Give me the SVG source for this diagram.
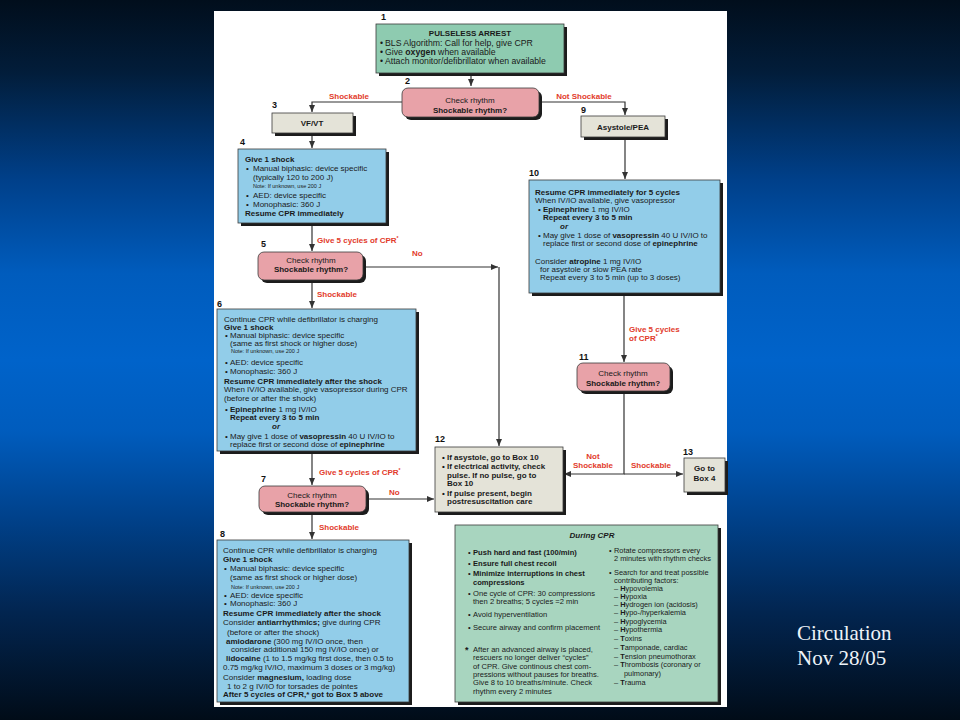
<svg xmlns="http://www.w3.org/2000/svg" width="960" height="720" viewBox="0 0 960 720">
<defs>
<linearGradient id="bg" x1="0" y1="0" x2="0" y2="1">
<stop offset="0" stop-color="#010e1c"/>
<stop offset="0.1" stop-color="#021d3a"/>
<stop offset="0.25" stop-color="#00408a"/>
<stop offset="0.38" stop-color="#005cbd"/>
<stop offset="0.5" stop-color="#0063ca"/>
<stop offset="0.6" stop-color="#005cbd"/>
<stop offset="0.72" stop-color="#00418a"/>
<stop offset="0.85" stop-color="#022550"/>
<stop offset="1" stop-color="#010c18"/>
</linearGradient>
<marker id="ah" markerUnits="userSpaceOnUse" markerWidth="8" markerHeight="7" refX="7" refY="3" orient="auto">
<path d="M0,0 L7,3 L0,6 z" fill="#333"/>
</marker>
</defs>
<style>
text{font-family:"Liberation Sans",Arial,sans-serif;font-size:8px;fill:#1a1a1a}
.b{font-weight:bold}
.i{font-style:italic}
.c{text-anchor:middle}
.n{font-size:5.5px}
.num{font-weight:bold;font-size:9px;fill:#111}
.red{font-weight:bold;fill:#e23b2b}
.sh{fill:#1c1c1c}
.green{fill:#8ecbb0;stroke:#3a3a3a;stroke-width:0.8}
.green2{fill:#a8d5bf;stroke:#3a3a3a;stroke-width:0.8}
.pink{fill:#e8a2a8;stroke:#3a3a3a;stroke-width:0.8}
.blue{fill:#92cde9;stroke:#3a3a3a;stroke-width:0.8}
.gray{fill:#e4e3d8;stroke:#3a3a3a;stroke-width:0.8}
.ln{fill:none;stroke:#333;stroke-width:1.2}
.cap{font-family:"Liberation Serif","Times New Roman",serif;font-size:21px;fill:#eef3f8}
.l{font-size:7.6px}
.r{font-size:7.4px}
</style>
<rect x="0" y="0" width="960" height="720" fill="url(#bg)"/>
<rect x="214" y="11" width="513" height="696" fill="#ffffff"/>

<g id="connectors">
<path class="ln" d="M471,73 V86" marker-end="url(#ah)"/>
<path class="ln" d="M402,102 H312 V112" marker-end="url(#ah)"/>
<path class="ln" d="M539,102 H625 V115" marker-end="url(#ah)"/>
<path class="ln" d="M312,133 V148" marker-end="url(#ah)"/>
<path class="ln" d="M312,223 V251" marker-end="url(#ah)"/>
<path class="ln" d="M363,267 H498" marker-end="url(#ah)"/>
<path class="ln" d="M499,267 V446" marker-end="url(#ah)"/>
<path class="ln" d="M312,280 V308" marker-end="url(#ah)"/>
<path class="ln" d="M312,451 V485" marker-end="url(#ah)"/>
<path class="ln" d="M366,499 H434" marker-end="url(#ah)"/>
<path class="ln" d="M312,512 V539" marker-end="url(#ah)"/>
<path class="ln" d="M625,137 V179" marker-end="url(#ah)"/>
<path class="ln" d="M624,293 V362" marker-end="url(#ah)"/>
<path class="ln" d="M624,391 V474 H564" marker-end="url(#ah)"/>
<path class="ln" d="M624,474 H683" marker-end="url(#ah)"/>
<text class="red c" x="349" y="99">Shockable</text>
<text class="red c" x="584" y="99">Not Shockable</text>
<text class="red" x="317" y="243">Give 5 cycles of CPR<tspan font-size="5" dy="-3">*</tspan></text>
<text class="red" x="412" y="256">No</text>
<text class="red" x="317" y="297">Shockable</text>
<text class="red" x="319" y="475">Give 5 cycles of CPR<tspan font-size="5" dy="-3">*</tspan></text>
<text class="red" x="389" y="495">No</text>
<text class="red" x="319" y="530">Shockable</text>
<text class="red" x="629" y="332">Give 5 cycles</text>
<text class="red" x="629" y="341">of CPR<tspan font-size="5" dy="-3">*</tspan></text>
<text class="red c" x="593" y="459">Not</text>
<text class="red c" x="593" y="468">Shockable</text>
<text class="red c" x="651" y="468">Shockable</text>
</g>

<g id="box1">
<text class="num" x="381" y="20">1</text>
<rect class="sh" x="379" y="27" width="188" height="49"/>
<rect class="green" x="376" y="24" width="188" height="49"/>
<text class="b c" x="470" y="36" style="font-size:8px">PULSELESS ARREST</text>
<text x="380" y="46" style="font-size:8.7px">•</text><text x="385" y="46" style="font-size:8.7px">BLS Algorithm: Call for help, give CPR</text>
<text x="380" y="55" style="font-size:8.7px">•</text><text x="385" y="55" style="font-size:8.7px">Give <tspan class="b">oxygen</tspan> when available</text>
<text x="380" y="64" style="font-size:8.7px">•</text><text x="385" y="64" style="font-size:8.7px">Attach monitor/defibrillator when available</text>
</g>

<g id="box2">
<text class="num" x="405" y="84">2</text>
<rect class="sh" x="405" y="91" width="137" height="29" rx="6"/>
<rect class="pink" x="402" y="88" width="137" height="29" rx="6"/>
<text class="c" x="470" y="103">Check rhythm</text>
<text class="b c" x="470" y="113">Shockable rhythm?</text>
</g>

<g id="box3">
<text class="num" x="272" y="108">3</text>
<rect class="sh" x="275" y="116" width="81" height="20"/>
<rect class="gray" x="272" y="113" width="81" height="20"/>
<text class="b c" x="312" y="126">VF/VT</text>
</g>

<g id="box9">
<text class="num" x="581" y="113">9</text>
<rect class="sh" x="584" y="119" width="84" height="21"/>
<rect class="gray" x="581" y="116" width="84" height="21"/>
<text class="b c" x="623" y="130">Asystole/PEA</text>
</g>

<g id="box4" style="font-size:8.2px">
<text class="num" x="240" y="145">4</text>
<rect class="sh" x="241" y="152" width="148" height="74"/>
<rect class="blue" x="238" y="149" width="148" height="74"/>
<text class="b" x="245" y="162">Give 1 shock</text>
<text x="246" y="171">•</text><text x="253" y="171">Manual biphasic: device specific</text>
<text x="253" y="180">(typically 120 to 200 J)</text>
<text class="n" x="253" y="188">Note: If unknown, use 200 J</text>
<text x="246" y="198">•</text><text x="253" y="198">AED: device specific</text>
<text x="246" y="207">•</text><text x="253" y="207">Monophasic: 360 J</text>
<text class="b" x="245" y="216">Resume CPR immediately</text>
</g>

<g id="box5">
<text class="num" x="261" y="247">5</text>
<rect class="sh" x="261" y="255" width="105" height="28" rx="6"/>
<rect class="pink" x="258" y="252" width="105" height="28" rx="6"/>
<text class="c" x="311" y="263">Check rhythm</text>
<text class="b c" x="311" y="272">Shockable rhythm?</text>
</g>

<g id="box6">
<text class="num" x="217" y="307">6</text>
<rect class="sh" x="220" y="312" width="199" height="142"/>
<rect class="blue" x="217" y="309" width="199" height="142"/>
<text x="224" y="322">Continue CPR while defibrillator is charging</text>
<text class="b" x="224" y="330">Give 1 shock</text>
<text x="225" y="338">•</text><text x="230" y="338">Manual biphasic: device specific</text>
<text x="230" y="346">(same as first shock or higher dose)</text>
<text class="n" x="231" y="353">Note: If unknown, use 200 J</text>
<text x="225" y="365">•</text><text x="230" y="365">AED: device specific</text>
<text x="225" y="374">•</text><text x="230" y="374">Monophasic: 360 J</text>
<text class="b" x="224" y="384">Resume CPR immediately after the shock</text>
<text x="224" y="392">When IV/IO available, give vasopressor during CPR</text>
<text x="224" y="401">(before or after the shock)</text>
<text x="225" y="412">•</text><text x="230" y="412"><tspan class="b">Epinephrine</tspan> 1 mg IV/IO</text>
<text class="b" x="230" y="420">Repeat every 3 to 5 min</text>
<text class="b i" x="272" y="429">or</text>
<text x="225" y="439">•</text><text x="230" y="439">May give 1 dose of <tspan class="b">vasopressin</tspan> 40 U IV/IO to</text>
<text x="230" y="447">replace first or second dose of <tspan class="b">epinephrine</tspan></text>
</g>

<g id="box7">
<text class="num" x="261" y="482">7</text>
<rect class="sh" x="262" y="489" width="107" height="26" rx="6"/>
<rect class="pink" x="259" y="486" width="107" height="26" rx="6"/>
<text class="c" x="312" y="498">Check rhythm</text>
<text class="b c" x="312" y="507">Shockable rhythm?</text>
</g>

<g id="box8">
<text class="num" x="220" y="537">8</text>
<rect class="sh" x="220" y="543" width="192" height="162"/>
<rect class="blue" x="217" y="540" width="192" height="162"/>
<text x="223" y="553">Continue CPR while defibrillator is charging</text>
<text class="b" x="223" y="562">Give 1 shock</text>
<text x="224" y="571">•</text><text x="230" y="571">Manual biphasic: device specific</text>
<text x="230" y="580">(same as first shock or higher dose)</text>
<text class="n" x="231" y="589">Note: If unknown, use 200 J</text>
<text x="224" y="598">•</text><text x="230" y="598">AED: device specific</text>
<text x="224" y="606">•</text><text x="230" y="606">Monophasic: 360 J</text>
<text class="b" x="223" y="616">Resume CPR immediately after the shock</text>
<text x="223" y="625">Consider <tspan class="b">antiarrhythmics;</tspan> give during CPR</text>
<text x="227" y="635">(before or after the shock)</text>
<text x="226" y="644"><tspan class="b">amiodarone</tspan> (300 mg IV/IO once, then</text>
<text x="231" y="652">consider additional 150 mg IV/IO once) or</text>
<text x="226" y="661"><tspan class="b">lidocaine</tspan> (1 to 1.5 mg/kg first dose, then 0.5 to</text>
<text x="223" y="670">0.75 mg/kg IV/IO, maximum 3 doses or 3 mg/kg)</text>
<text x="223" y="680">Consider <tspan class="b">magnesium,</tspan> loading dose</text>
<text x="227" y="689">1 to 2 g IV/IO for torsades de pointes</text>
<text class="b" x="223" y="697">After 5 cycles of CPR,* got to Box 5 above</text>
</g>

<g id="box10">
<text class="num" x="529" y="176">10</text>
<rect class="sh" x="532" y="183" width="191" height="113"/>
<rect class="blue" x="529" y="180" width="191" height="113"/>
<text class="b" x="535" y="195">Resume CPR immediately for 5 cycles</text>
<text x="535" y="203">When IV/IO available, give vasopressor</text>
<text x="538" y="212">•</text><text x="543" y="212"><tspan class="b">Epinephrine</tspan> 1 mg IV/IO</text>
<text class="b" x="543" y="220">Repeat every 3 to 5 min</text>
<text class="b i" x="560" y="229">or</text>
<text x="538" y="238">•</text><text x="543" y="238">May give 1 dose of <tspan class="b">vasopressin</tspan> 40 U IV/IO to</text>
<text x="543" y="246">replace first or second dose of <tspan class="b">epinephrine</tspan></text>
<text x="535" y="264">Consider <tspan class="b">atropine</tspan> 1 mg IV/IO</text>
<text x="540" y="272">for asystole or slow PEA rate</text>
<text x="540" y="280">Repeat every 3 to 5 min (up to 3 doses)</text>
</g>

<g id="box11">
<text class="num" x="579" y="360">11</text>
<rect class="sh" x="580" y="366" width="93" height="28" rx="6"/>
<rect class="pink" x="577" y="363" width="93" height="28" rx="6"/>
<text class="c" x="623" y="376">Check rhythm</text>
<text class="b c" x="623" y="386">Shockable rhythm?</text>
</g>

<g id="box12" style="font-size:8.2px">
<text class="num" x="435" y="442">12</text>
<rect class="sh" x="438" y="450" width="128" height="65"/>
<rect class="gray" x="435" y="447" width="128" height="65"/>
<text class="b" x="442" y="460">•</text><text class="b" x="447" y="460">If asystole, go to Box 10</text>
<text class="b" x="442" y="469">•</text><text class="b" x="447" y="469">If electrical activity, check</text>
<text class="b" x="447" y="478">pulse. If no pulse, go to</text>
<text class="b" x="447" y="486">Box 10</text>
<text class="b" x="442" y="496">•</text><text class="b" x="447" y="496">If pulse present, begin</text>
<text class="b" x="447" y="504">postresuscitation care</text>
</g>

<g id="box13">
<text class="num" x="683" y="455">13</text>
<rect class="sh" x="687" y="461" width="41" height="34"/>
<rect class="gray" x="684" y="458" width="41" height="34"/>
<text class="b c" x="704.5" y="471">Go to</text>
<text class="b c" x="704.5" y="481">Box 4</text>
</g>

<g id="duringcpr">
<rect class="sh" x="458" y="528" width="263" height="177"/>
<rect class="green2" x="455" y="525" width="263" height="177"/>
<text class="b i c" x="592" y="538">During CPR</text>
<text class="l" x="468" y="555">•</text><text class="b l" x="473" y="555">Push hard and fast (100/min)</text>
<text class="l" x="468" y="566">•</text><text class="b l" x="473" y="566">Ensure full chest recoil</text>
<text class="l" x="468" y="576">•</text><text class="b l" x="473" y="576">Minimize interruptions in chest</text>
<text class="b l" x="473" y="585">compressions</text>
<text class="l" x="468" y="596">•</text><text class="l" x="473" y="596">One cycle of CPR: 30 compressions</text>
<text class="l" x="473" y="604">then 2 breaths; 5 cycles =2 min</text>
<text class="l" x="468" y="617">•</text><text class="l" x="473" y="617">Avoid hyperventilation</text>
<text class="l" x="468" y="630">•</text><text class="l" x="473" y="630">Secure airway and confirm placement</text>
<text class="b" x="465" y="653" style="font-size:9px">*</text><text class="l" x="473" y="652">After an advanced airway is placed,</text>
<text class="l" x="473" y="660">rescuers no longer deliver “cycles”</text>
<text class="l" x="473" y="669">of CPR. Give continous chest com-</text>
<text class="l" x="473" y="677">pressions without pauses for breaths.</text>
<text class="l" x="473" y="685">Give 8 to 10 breaths/minute. Check</text>
<text class="l" x="473" y="694">rhythm every 2 minutes</text>
<text class="r" x="609" y="553">•</text><text class="r" x="614" y="553">Rotate compressors every</text>
<text class="r" x="614" y="561">2 minutes with rhythm checks</text>
<text class="r" x="609" y="575">•</text><text class="r" x="614" y="575">Search for and treat possible</text>
<text class="r" x="614" y="583">contributing factors:</text>
<text class="r" x="614" y="591">– <tspan class="b">H</tspan>ypovolemia</text>
<text class="r" x="614" y="599">– <tspan class="b">H</tspan>ypoxia</text>
<text class="r" x="614" y="607">– <tspan class="b">H</tspan>ydrogen ion (acidosis)</text>
<text class="r" x="614" y="615">– <tspan class="b">H</tspan>ypo-/hyperkalemia</text>
<text class="r" x="614" y="624">– <tspan class="b">H</tspan>ypoglycemia</text>
<text class="r" x="614" y="632">– <tspan class="b">H</tspan>ypothermia</text>
<text class="r" x="614" y="641">– <tspan class="b">T</tspan>oxins</text>
<text class="r" x="614" y="650">– <tspan class="b">T</tspan>amponade, cardiac</text>
<text class="r" x="614" y="659">– <tspan class="b">T</tspan>ension pneumothorax</text>
<text class="r" x="614" y="667">– <tspan class="b">T</tspan>hrombosis (coronary or</text>
<text class="r" x="624" y="676">pulmonary)</text>
<text class="r" x="614" y="685">– <tspan class="b">T</tspan>rauma</text>
</g>

<g id="caption">
<text class="cap" x="797" y="640">Circulation</text>
<text class="cap" x="797" y="665">Nov 28/05</text>
</g>
</svg>
